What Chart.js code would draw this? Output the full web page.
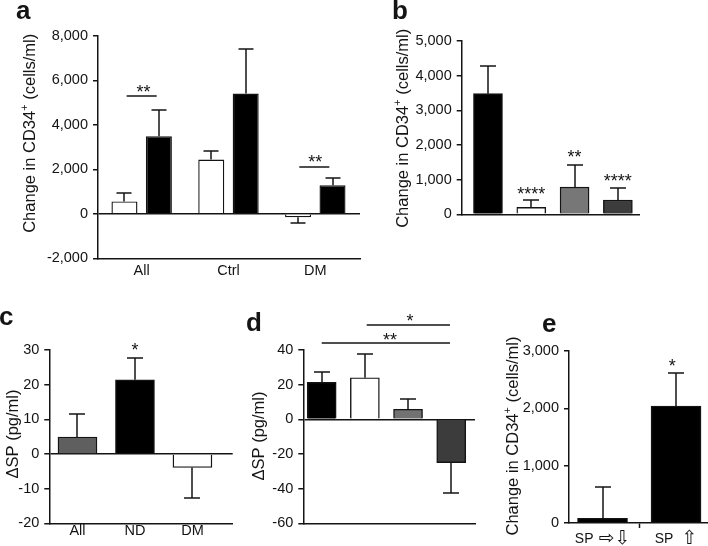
<!DOCTYPE html>
<html><head><meta charset="utf-8">
<script src="https://cdn.jsdelivr.net/npm/chart.js@4/dist/chart.umd.min.js"></script>
<style>
html,body{margin:0;padding:0;background:#fff;}
#wrap{position:relative;width:708px;height:546px;overflow:hidden;background:#fff;}
canvas{position:absolute;left:0;top:0;}
</style></head><body>
<div id="wrap">
<canvas id="ca" width="708" height="546"></canvas>
<canvas id="cb" width="708" height="546"></canvas>
<canvas id="cc" width="708" height="546"></canvas>
<canvas id="cd" width="708" height="546"></canvas>
<canvas id="ce" width="708" height="546"></canvas>
</div>
<script>
// ---------- data ----------
const catsA = ['All', 'Ctrl', 'DM'];
const whiteA = [560, 2440, -150];
const whiteErrA = [360, 375, 270];
const blackA = [3490, 5410, 1290];
const blackErrA = [1190, 1990, 315];

const catsB = ['', '', '', ''];
const valuesB = [3480, 200, 785, 410];
const errB = [805, 205, 645, 355];

const catsC = ['All', 'ND', 'DM'];
const valuesC = [4.9, 21.4, -3.9];
const errC = [6.5, 6.2, 8.8];

const catsD = ['', '', '', ''];
const valuesD = [21.3, 24.0, 5.8, -25.0];
const errD = [6.2, 13.5, 6.1, 17.3];

// label parts: [plain text, arrow glyphs]
const catsE = [['SP', '\u21E8\u21E9'], ['SP', '\u21E7']];
const valuesE = [82, 2040];
const errE = [550, 580];

const yTicksA = [-2000, 8000, 2000];
const yTicksB = [0, 5000, 1000];
const yTicksC = [-20, 30, 10];
const yTicksD = [-60, 40, 20];
const yTicksE = [0, 3000, 1000];

// ---------- style ----------
const FAMILY = "'Liberation Sans', Arial, Helvetica, 'DejaVu Sans', sans-serif";
const ARROWFAM = "'DejaVu Sans', sans-serif";
const INK = '#141414';
const LW = 1.5;
Chart.defaults.font.family = FAMILY;
Chart.defaults.color = INK;

function fmt(v) { return Number(v).toLocaleString('en-US'); }

function makeChart(id, o) {
  const a = o.area;
  const pad = { left: a.l - o.yw, right: 708 - a.r, top: a.t, bottom: 546 - a.b - o.xh };
  const datasets = o.datasets.map(d => Object.assign({
    data: d.values.map((v, i) => ({ x: i + 1, y: v })),
    backgroundColor: d.colors,
    borderColor: INK,
    borderWidth: 1.4,
    borderSkipped: 'start'
  }, o.barOpts));

  const deco = {
    id: 'deco_' + id,
    afterDatasetsDraw(chart) {
      const ctx = chart.ctx, xs = chart.scales.x, ys = chart.scales.y;
      ctx.save();
      ctx.strokeStyle = INK; ctx.lineWidth = LW;
      o.datasets.forEach((d, di) => {
        const meta = chart.getDatasetMeta(di);
        meta.data.forEach((bar, i) => {
          const v = d.values[i], e = d.errors[i];
          const end = v + (v < 0 ? -e : e);
          const x = Math.round(bar.x);
          const p0 = ys.getPixelForValue(v), p1 = Math.round(ys.getPixelForValue(end));
          ctx.beginPath();
          ctx.moveTo(x, p0); ctx.lineTo(x, p1);
          ctx.moveTo(x - o.cap, p1); ctx.lineTo(x + o.cap, p1);
          ctx.stroke();
        });
      });
      // significance marks
      ctx.fillStyle = INK;
      ctx.font = '18px ' + FAMILY;
      ctx.textAlign = 'center'; ctx.textBaseline = 'alphabetic';
      (o.sig || []).forEach(s => {
        const m = ctx.measureText(s.text);
        const off = (m.actualBoundingBoxAscent - m.actualBoundingBoxDescent) / 2;
        ctx.fillText(s.text, xs.getPixelForValue(s.x), ys.getPixelForValue(s.y) + off);
        if (s.line) {
          const ly = Math.round(ys.getPixelForValue(s.line.y));
          ctx.beginPath();
          ctx.moveTo(xs.getPixelForValue(s.line.x1), ly);
          ctx.lineTo(xs.getPixelForValue(s.line.x2), ly);
          ctx.stroke();
        }
      });
      // mixed-font category labels (panel e)
      if (o.mixedLabels) {
        ctx.textBaseline = 'middle'; ctx.textAlign = 'left';
        const yPix = xs.bottom - o.xh + o.mixedLabels.dy;
        o.mixedLabels.items.forEach((parts, i) => {
          const tf = '14px ' + FAMILY, af = '19px ' + ARROWFAM;
          ctx.font = tf; const w1 = ctx.measureText(parts[0] + ' ').width;
          ctx.font = af; const w2 = ctx.measureText(parts[1]).width;
          const gap = o.mixedLabels.gaps[i];
          let x0 = xs.getPixelForValue(i + 1) - (w1 + gap + w2) / 2;
          ctx.font = tf; ctx.fillText(parts[0] + ' ', x0, yPix);
          ctx.font = af; ctx.fillText(parts[1], x0 + w1 + gap, yPix);
        });
      }
      // axis title (rotated) with optional superscript
      const t = o.title;
      ctx.save();
      ctx.translate(t.x, t.y);
      ctx.rotate(-Math.PI / 2);
      ctx.textAlign = 'left'; ctx.textBaseline = 'middle';
      const mainF = '16.5px ' + FAMILY, supF = '11px ' + FAMILY;
      let total = 0;
      t.parts.forEach(p => { ctx.font = p.sup ? supF : mainF; total += ctx.measureText(p.t).width; });
      let cx = -total / 2;
      t.parts.forEach(p => {
        ctx.font = p.sup ? supF : mainF;
        ctx.fillText(p.t, cx, p.sup ? -5.5 : 0);
        cx += ctx.measureText(p.t).width;
      });
      ctx.restore();
      // panel letter
      ctx.font = 'bold ' + o.letter.size + 'px ' + FAMILY;
      ctx.textAlign = 'left'; ctx.textBaseline = 'alphabetic';
      ctx.fillText(o.letter.t, o.letter.x, o.letter.y);
      ctx.restore();
    }
  };

  return new Chart(document.getElementById(id), {
    type: 'bar',
    data: { datasets },
    options: {
      responsive: false, animation: false, events: [],
      devicePixelRatio: 1,
      layout: { padding: pad },
      plugins: { legend: { display: false }, tooltip: { enabled: false } },
      scales: {
        x: {
          type: 'linear', min: o.xr[0], max: o.xr[1], offset: false,
          afterBuildTicks: s => { s.ticks = o.labels.map((_, i) => ({ value: i + 1 })); },
          afterFit: s => { s.height = o.xh; },
          ticks: {
            display: o.xLabels, autoSkip: false, maxRotation: 0,
            callback: v => { const l = o.labels[Math.round(v) - 1]; return typeof l === 'string' ? l : ''; },
            font: { size: 14.5 }, color: INK, padding: o.xPad
          },
          grid: { display: !!o.xTickMarks, drawOnChartArea: false, drawTicks: !!o.xTickMarks,
                  tickLength: 5, tickColor: INK, tickWidth: LW },
          border: { display: true, color: INK, width: LW }
        },
        y: {
          type: 'linear', min: o.yt[0], max: o.yt[1],
          afterFit: s => { s.width = o.yw; },
          ticks: { stepSize: o.yt[2], callback: v => fmt(v), font: { size: 14.5 }, color: INK, padding: 5 },
          grid: {
            display: true, drawOnChartArea: !!o.zero, drawTicks: true, tickLength: 5,
            tickColor: INK, tickWidth: LW, lineWidth: LW,
            color: c => (c.tick && c.tick.value === 0) ? INK : 'rgba(0,0,0,0)'
          },
          border: { display: true, color: INK, width: LW }
        }
      }
    },
    plugins: [deco]
  });
}

const TITLE_CD34 = [{ t: 'Change in CD34' }, { t: '+', sup: true }, { t: ' (cells/ml)' }];
const TITLE_SP = [{ t: '\u0394SP (pg/ml)' }];

// Panel a
makeChart('ca', {
  labels: catsA, xLabels: true, xPad: 4,
  area: { l: 98, r: 360, t: 36, b: 258.3 }, yw: 98, xh: 30,
  xr: [0.497, 3.515], yt: yTicksA, zero: true, cap: 7.5,
  barOpts: { categoryPercentage: 0.793, barPercentage: 0.756 },
  datasets: [
    { values: whiteA, errors: whiteErrA, colors: '#ffffff' },
    { values: blackA, errors: blackErrA, colors: '#000000' }
  ],
  sig: [
    { text: '**', x: 1.02, y: 5640, line: { x1: 0.827, x2: 1.173, y: 5280 } },
    { text: '**', x: 3.0, y: 2500, line: { x1: 2.816, x2: 3.162, y: 2100 } }
  ],
  title: { parts: TITLE_CD34, x: 30, y: 133.3 },
  letter: { t: 'a', x: 16, y: 19, size: 26 }
});

// Panel b
makeChart('cb', {
  labels: catsB, xLabels: false, xPad: 4,
  area: { l: 461.7, r: 639.3, t: 41, b: 214.3 }, yw: 60, xh: 10,
  xr: [0.393, 4.495], yt: yTicksB, zero: false, cap: 8,
  barOpts: { barThickness: 29 },
  datasets: [{ values: valuesB, errors: errB, colors: ['#000000', '#ffffff', '#777777', '#3c3c3c'] }],
  sig: [
    { text: '****', x: 2, y: 690 },
    { text: '**', x: 3, y: 1760 },
    { text: '****', x: 4, y: 1070 }
  ],
  title: { parts: TITLE_CD34, x: 403, y: 128.3 },
  letter: { t: 'b', x: 392, y: 19, size: 26 }
});

// Panel c
makeChart('cc', {
  labels: catsC, xLabels: true, xPad: -1,
  area: { l: 49.3, r: 232.7, t: 350, b: 523.3 }, yw: 49.3, xh: 22,
  xr: [0.51, 3.70], yt: yTicksC, zero: true, cap: 8,
  barOpts: { barThickness: 39 },
  datasets: [{ values: valuesC, errors: errC, colors: ['#5f5f5f', '#000000', '#ffffff'] }],
  sig: [{ text: '*', x: 2, y: 30.95 }],
  title: { parts: TITLE_SP, x: 13.7, y: 434 },
  letter: { t: 'c', x: -1, y: 325, size: 26 }
});

// Panel d
makeChart('cd', {
  labels: catsD, xLabels: false, xPad: 4,
  area: { l: 303.3, r: 475, t: 350, b: 523.3 }, yw: 50, xh: 10,
  xr: [0.574, 4.551], yt: yTicksD, zero: true, cap: 8,
  barOpts: { barThickness: 29 },
  datasets: [{ values: valuesD, errors: errD, colors: ['#000000', '#ffffff', '#727272', '#3c3c3c'] }],
  sig: [
    { text: '*', x: 3.046, y: 58.7, line: { x1: 2.043, x2: 3.972, y: 54.6 } },
    { text: '**', x: 2.582, y: 48.0, line: { x1: 1.0, x2: 3.972, y: 44.0 } }
  ],
  title: { parts: TITLE_SP, x: 259, y: 436 },
  letter: { t: 'd', x: 246, y: 331, size: 26 }
});

// Panel e
makeChart('ce', {
  labels: catsE, xLabels: false, xPad: 3, xTickMarks: true,
  mixedLabels: { items: catsE, dy: 16, gaps: [1, 4] },
  area: { l: 569, r: 708, t: 351, b: 523 }, yw: 50, xh: 23,
  xr: [0.544, 2.435], yt: yTicksE, zero: false, cap: 8,
  barOpts: { barThickness: 50 },
  datasets: [{ values: valuesE, errors: errE, colors: ['#000000', '#000000'] }],
  sig: [{ text: '*', x: 1.95, y: 2800 }],
  title: { parts: TITLE_CD34, x: 513, y: 436 },
  letter: { t: 'e', x: 542, y: 332, size: 26 }
});
</script>
</body></html>
